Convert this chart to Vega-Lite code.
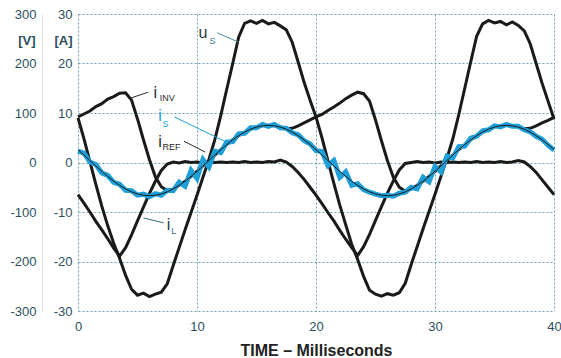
{
  "$schema": "https://vega.github.io/schema/vega-lite/v6.json",
  "width": 476,
  "height": 297,
  "autosize": "none",
  "padding": {"left": 78, "top": 14, "right": 7, "bottom": 47},
  "background": "white",
  "config": {"view": {"stroke": null}, "font": "Liberation Sans"},
  "datasets": {
    "wave": [
      {"t":0,"us":90,"il":-6.5,"iinv":9.2,"iref":2.59,"is":2.3},
      {"t":0.5,"us":48,"il":-8.2,"iinv":9.8,"iref":1.51,"is":1.9},
      {"t":1,"us":2,"il":-10.0,"iinv":10.4,"iref":0.40,"is":0.1},
      {"t":1.5,"us":-44,"il":-11.9,"iinv":11.3,"iref":-0.71,"is":-0.4},
      {"t":2,"us":-88,"il":-13.6,"iinv":11.9,"iref":-1.79,"is":-2.1},
      {"t":2.5,"us":-128,"il":-15.4,"iinv":12.8,"iref":-2.82,"is":-2.6},
      {"t":3,"us":-163,"il":-17.3,"iinv":13.3,"iref":-3.77,"is":-4.0},
      {"t":3.5,"us":-194,"il":-18.9,"iinv":14.0,"iref":-4.62,"is":-4.4},
      {"t":4,"us":-228,"il":-17.2,"iinv":14.1,"iref":-5.34,"is":-5.6},
      {"t":4.5,"us":-256,"il":-14.6,"iinv":12.6,"iref":-5.93,"is":-5.7},
      {"t":5,"us":-268,"il":-11.8,"iinv":8.8,"iref":-6.35,"is":-6.6},
      {"t":5.5,"us":-264,"il":-9.0,"iinv":4.6,"iref":-6.61,"is":-6.4},
      {"t":6,"us":-271,"il":-6.3,"iinv":0.6,"iref":-6.70,"is":-6.9},
      {"t":6.5,"us":-266,"il":-3.8,"iinv":-2.9,"iref":-6.61,"is":-6.3},
      {"t":7,"us":-262,"il":-1.6,"iinv":-4.9,"iref":-6.35,"is":-6.6},
      {"t":7.5,"us":-245,"il":-0.3,"iinv":-5.7,"iref":-5.93,"is":-5.6},
      {"t":8,"us":-208,"il":0.1,"iinv":-5.4,"iref":-5.34,"is":-5.7},
      {"t":8.5,"us":-172,"il":-0.1,"iinv":-4.6,"iref":-4.62,"is":-4.0},
      {"t":9,"us":-136,"il":0.2,"iinv":-3.8,"iref":-3.77,"is":-4.8},
      {"t":9.5,"us":-101,"il":0.0,"iinv":-2.8,"iref":-2.82,"is":-1.6},
      {"t":10,"us":-66,"il":0.1,"iinv":-1.8,"iref":-1.79,"is":-3.2},
      {"t":10.5,"us":-30,"il":-0.1,"iinv":-0.7,"iref":-0.71,"is":0.6},
      {"t":11,"us":6,"il":0.1,"iinv":0.4,"iref":0.40,"is":-0.9},
      {"t":11.5,"us":46,"il":0.0,"iinv":1.5,"iref":1.51,"is":2.3},
      {"t":12,"us":95,"il":0.1,"iinv":2.6,"iref":2.59,"is":2.0},
      {"t":12.5,"us":148,"il":0.0,"iinv":3.6,"iref":3.62,"is":4.1},
      {"t":13,"us":200,"il":0.1,"iinv":4.6,"iref":4.57,"is":4.2},
      {"t":13.5,"us":253,"il":0.0,"iinv":5.4,"iref":5.42,"is":5.8},
      {"t":14,"us":281,"il":0.2,"iinv":6.1,"iref":6.14,"is":5.9},
      {"t":14.5,"us":286,"il":0.0,"iinv":6.7,"iref":6.73,"is":7.0},
      {"t":15,"us":281,"il":0.1,"iinv":7.2,"iref":7.15,"is":7.0},
      {"t":15.5,"us":287,"il":0.0,"iinv":7.4,"iref":7.41,"is":7.7},
      {"t":16,"us":280,"il":0.2,"iinv":7.5,"iref":7.50,"is":7.3},
      {"t":16.5,"us":283,"il":0.1,"iinv":7.4,"iref":7.41,"is":7.7},
      {"t":17,"us":276,"il":0.5,"iinv":7.2,"iref":7.15,"is":7.0},
      {"t":17.5,"us":268,"il":0.1,"iinv":6.8,"iref":6.73,"is":6.9},
      {"t":18,"us":243,"il":-0.8,"iinv":6.9,"iref":6.14,"is":6.0},
      {"t":18.5,"us":203,"il":-2.0,"iinv":7.4,"iref":5.42,"is":5.6},
      {"t":19,"us":162,"il":-3.4,"iinv":8.0,"iref":4.57,"is":4.4},
      {"t":19.5,"us":126,"il":-5.0,"iinv":8.6,"iref":3.62,"is":3.8},
      {"t":20,"us":92,"il":-6.6,"iinv":9.2,"iref":2.59,"is":2.4},
      {"t":20.5,"us":50,"il":-8.3,"iinv":9.7,"iref":1.51,"is":2.2},
      {"t":21,"us":4,"il":-10.1,"iinv":10.5,"iref":0.40,"is":-0.6},
      {"t":21.5,"us":-42,"il":-11.8,"iinv":11.2,"iref":-0.71,"is":0.4},
      {"t":22,"us":-86,"il":-13.7,"iinv":12.0,"iref":-1.79,"is":-3.0},
      {"t":22.5,"us":-126,"il":-15.5,"iinv":12.9,"iref":-2.82,"is":-1.9},
      {"t":23,"us":-165,"il":-17.2,"iinv":13.6,"iref":-3.77,"is":-4.6},
      {"t":23.5,"us":-196,"il":-18.8,"iinv":14.2,"iref":-4.62,"is":-4.3},
      {"t":24,"us":-230,"il":-17.0,"iinv":13.9,"iref":-5.34,"is":-5.5},
      {"t":24.5,"us":-258,"il":-14.5,"iinv":12.4,"iref":-5.93,"is":-6.0},
      {"t":25,"us":-266,"il":-11.7,"iinv":8.6,"iref":-6.35,"is":-6.4},
      {"t":25.5,"us":-270,"il":-8.9,"iinv":4.4,"iref":-6.61,"is":-6.7},
      {"t":26,"us":-265,"il":-6.2,"iinv":0.4,"iref":-6.70,"is":-6.6},
      {"t":26.5,"us":-268,"il":-3.7,"iinv":-3.0,"iref":-6.61,"is":-6.8},
      {"t":27,"us":-263,"il":-1.5,"iinv":-5.0,"iref":-6.35,"is":-6.2},
      {"t":27.5,"us":-244,"il":-0.2,"iinv":-5.8,"iref":-5.93,"is":-6.0},
      {"t":28,"us":-206,"il":0.0,"iinv":-5.4,"iref":-5.34,"is":-5.0},
      {"t":28.5,"us":-170,"il":0.2,"iinv":-4.6,"iref":-4.62,"is":-5.3},
      {"t":29,"us":-134,"il":0.0,"iinv":-3.8,"iref":-3.77,"is":-3.0},
      {"t":29.5,"us":-99,"il":0.1,"iinv":-2.8,"iref":-2.82,"is":-3.9},
      {"t":30,"us":-64,"il":-0.1,"iinv":-1.8,"iref":-1.79,"is":-0.8},
      {"t":30.5,"us":-28,"il":0.1,"iinv":-0.7,"iref":-0.71,"is":-1.9},
      {"t":31,"us":8,"il":0.0,"iinv":0.4,"iref":0.40,"is":1.3},
      {"t":31.5,"us":48,"il":0.1,"iinv":1.5,"iref":1.51,"is":0.9},
      {"t":32,"us":97,"il":0.0,"iinv":2.6,"iref":2.59,"is":3.2},
      {"t":32.5,"us":150,"il":0.1,"iinv":3.6,"iref":3.62,"is":3.3},
      {"t":33,"us":203,"il":0.0,"iinv":4.6,"iref":4.57,"is":4.9},
      {"t":33.5,"us":255,"il":0.2,"iinv":5.4,"iref":5.42,"is":5.3},
      {"t":34,"us":280,"il":0.0,"iinv":6.1,"iref":6.14,"is":6.4},
      {"t":34.5,"us":287,"il":0.1,"iinv":6.7,"iref":6.73,"is":6.6},
      {"t":35,"us":282,"il":0.0,"iinv":7.2,"iref":7.15,"is":7.4},
      {"t":35.5,"us":285,"il":0.2,"iinv":7.4,"iref":7.41,"is":7.2},
      {"t":36,"us":278,"il":0.0,"iinv":7.5,"iref":7.50,"is":7.7},
      {"t":36.5,"us":284,"il":0.1,"iinv":7.4,"iref":7.41,"is":7.3},
      {"t":37,"us":277,"il":0.4,"iinv":7.2,"iref":7.15,"is":7.3},
      {"t":37.5,"us":266,"il":0.1,"iinv":6.8,"iref":6.73,"is":6.6},
      {"t":38,"us":240,"il":-0.8,"iinv":6.9,"iref":6.14,"is":6.2},
      {"t":38.5,"us":200,"il":-2.0,"iinv":7.4,"iref":5.42,"is":5.3},
      {"t":39,"us":160,"il":-3.5,"iinv":8.0,"iref":4.57,"is":4.7},
      {"t":39.5,"us":124,"il":-5.0,"iinv":8.5,"iref":3.62,"is":3.5},
      {"t":40,"us":88,"il":-6.5,"iinv":9.1,"iref":2.59,"is":2.5}
    ],
    "labels": [
      {"t":10.5,"a":26.2,"txt":"u","series":"uS","part":"main"},
      {"t":11.3,"a":24.6,"txt":"S","series":"uS","part":"sub"},
      {"t":6.5,"a":14.1,"txt":"i","series":"iINV","part":"main"},
      {"t":7.5,"a":13.0,"txt":"INV","series":"iINV","part":"sub"},
      {"t":6.9,"a":9.3,"txt":"i","series":"iS","part":"main"},
      {"t":7.35,"a":7.7,"txt":"S","series":"iS","part":"sub"},
      {"t":6.9,"a":4.1,"txt":"i","series":"iREF","part":"main"},
      {"t":7.85,"a":3.1,"txt":"REF","series":"iREF","part":"sub"},
      {"t":7.6,"a":-12.6,"txt":"i","series":"iL","part":"main"},
      {"t":8.05,"a":-13.9,"txt":"L","series":"iL","part":"sub"}
    ],
    "pointers": [
      {"t":11.7,"a":26.2,"t2":13.5,"a2":24.3,"series":"uS"},
      {"t":4.4,"a":13.0,"t2":5.9,"a2":14.2,"series":"iINV"},
      {"t":8.1,"a":9.2,"t2":12.4,"a2":4.2,"series":"iS"},
      {"t":8.9,"a":4.3,"t2":10.7,"a2":2.1,"series":"iREF"},
      {"t":5.5,"a":-11.2,"t2":7.2,"a2":-12.2,"series":"iL"}
    ]
  },
  "layer": [
    {
      "data": {"name": "wave"},
      "mark": {"type": "line", "color": "#1a1a1a", "strokeWidth": 3},
      "encoding": {
        "x": {"field": "t", "type": "quantitative",
          "scale": {"domain": [0, 40], "nice": false},
          "axis": {"orient": "bottom", "values": [0, 10, 20, 30, 40], "ticks": false, "domain": false,
            "grid": true, "gridColor": "#6f9fb3", "gridDash": [2, 2], "gridWidth": 1,
            "labelFontSize": 13, "labelColor": "#2c4f5e", "labelPadding": 9, "labelFlush": false,
            "title": "TIME – Milliseconds", "titleFontSize": 16, "titleFontWeight": "bold", "titleColor": "#222222", "titlePadding": 9}},
        "y": {"field": "il", "type": "quantitative",
          "scale": {"domain": [-30, 30], "nice": false, "zero": false},
          "axis": {"orient": "left", "values": [-30, -20, -10, 0, 10, 20, 30], "labelExpr": "toString(datum.value)",
            "ticks": false, "domain": false, "grid": true, "gridColor": "#6f9fb3", "gridDash": [2, 2], "gridWidth": 1,
            "labelFontSize": 13, "labelColor": "#2c4f5e", "labelPadding": 6,
            "title": "[A]", "titleAngle": 0, "titleAlign": "right", "titleBaseline": "middle",
            "titleX": -6, "titleY": 26, "titleFontSize": 13, "titleFontWeight": "bold", "titleColor": "#2c4f5e"}}
      }
    },
    {
      "data": {"name": "wave"},
      "mark": {"type": "line", "color": "#1a1a1a", "strokeWidth": 3},
      "encoding": {
        "x": {"field": "t", "type": "quantitative"},
        "y": {"field": "us", "type": "quantitative",
          "scale": {"domain": [-300, 300], "nice": false, "zero": false},
          "axis": {"orient": "left", "offset": 36, "values": [-300, -200, -100, 0, 100, 200, 300], "labelExpr": "toString(datum.value)",
            "ticks": false, "domain": true, "domainColor": "#dfe5ee", "grid": false,
            "labelFontSize": 13, "labelColor": "#2c4f5e", "labelPadding": 6,
            "title": "[V]", "titleAngle": 0, "titleAlign": "right", "titleBaseline": "middle",
            "titleX": -7, "titleY": 26, "titleFontSize": 13, "titleFontWeight": "bold", "titleColor": "#2c4f5e"}}
      }
    },
    {
      "data": {"name": "wave"},
      "mark": {"type": "line", "color": "#1a1a1a", "strokeWidth": 3},
      "encoding": {
        "x": {"field": "t", "type": "quantitative"},
        "y": {"field": "iinv", "type": "quantitative", "scale": {"domain": [-30, 30], "nice": false, "zero": false}, "axis": null}
      }
    },
    {
      "data": {"name": "wave"},
      "mark": {"type": "line", "color": "#1f9fd8", "strokeWidth": 5},
      "encoding": {
        "x": {"field": "t", "type": "quantitative"},
        "y": {"field": "is", "type": "quantitative", "scale": {"domain": [-30, 30], "nice": false, "zero": false}, "axis": null}
      }
    },
    {
      "data": {"name": "wave"},
      "mark": {"type": "line", "color": "#1a1a1a", "strokeWidth": 1},
      "encoding": {
        "x": {"field": "t", "type": "quantitative"},
        "y": {"field": "iref", "type": "quantitative", "scale": {"domain": [-30, 30], "nice": false, "zero": false}, "axis": null}
      }
    },
    {
      "data": {"name": "pointers"},
      "mark": {"type": "rule", "strokeWidth": 1},
      "encoding": {
        "x": {"field": "t", "type": "quantitative"},
        "y": {"field": "a", "type": "quantitative", "scale": {"domain": [-30, 30], "nice": false, "zero": false}, "axis": null},
        "x2": {"field": "t2"},
        "y2": {"field": "a2"},
        "color": {"field": "series", "type": "nominal", "legend": null,
          "scale": {"domain": ["uS", "iINV", "iS", "iREF", "iL"], "range": ["#4a8aa0", "#2a2a2a", "#1f9fd8", "#2a2a2a", "#3d6878"]}}
      }
    },
    {
      "data": {"name": "labels"},
      "transform": [{"filter": "datum.part == 'main'"}],
      "mark": {"type": "text", "fontSize": 16, "align": "center", "baseline": "middle"},
      "encoding": {
        "x": {"field": "t", "type": "quantitative"},
        "y": {"field": "a", "type": "quantitative", "scale": {"domain": [-30, 30], "nice": false, "zero": false}, "axis": null},
        "text": {"field": "txt"},
        "color": {"field": "series", "type": "nominal", "legend": null,
          "scale": {"domain": ["uS", "iINV", "iS", "iREF", "iL"], "range": ["#2a3a40", "#2a2a2a", "#1f9fd8", "#2a2a2a", "#2a3a40"]}}
      }
    },
    {
      "data": {"name": "labels"},
      "transform": [{"filter": "datum.part == 'sub'"}],
      "mark": {"type": "text", "fontSize": 9, "align": "center", "baseline": "middle"},
      "encoding": {
        "x": {"field": "t", "type": "quantitative"},
        "y": {"field": "a", "type": "quantitative", "scale": {"domain": [-30, 30], "nice": false, "zero": false}, "axis": null},
        "text": {"field": "txt"},
        "color": {"field": "series", "type": "nominal", "legend": null,
          "scale": {"domain": ["uS", "iINV", "iS", "iREF", "iL"], "range": ["#3d7890", "#2a2a2a", "#1f9fd8", "#2a2a2a", "#3d6878"]}}
      }
    }
  ],
  "resolve": {"scale": {"y": "independent", "color": "independent"}, "axis": {"y": "independent"}}
}
